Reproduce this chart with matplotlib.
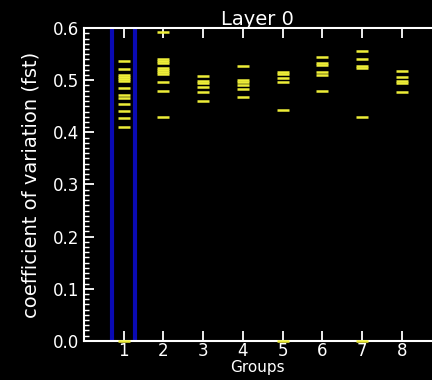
import matplotlib.pyplot as plt
from matplotlib.ticker import MultipleLocator

# values, one list per group
group_1 = [0.537, 0.522, 0.511, 0.507, 0.503, 0.499, 0.486, 0.471, 0.465,
           0.454, 0.441, 0.428, 0.411, 0.0]
group_2 = [0.593, 0.541, 0.537, 0.533, 0.524, 0.520, 0.516, 0.512, 0.497, 0.479, 0.430]
group_3 = [0.509, 0.498, 0.494, 0.487, 0.478, 0.460]
group_4 = [0.527, 0.501, 0.497, 0.491, 0.484, 0.467]
group_5 = [0.516, 0.512, 0.504, 0.497, 0.443, 0.0]
group_6 = [0.544, 0.534, 0.530, 0.515, 0.511, 0.480]
group_7 = [0.557, 0.540, 0.528, 0.524, 0.430, 0.0]
group_8 = [0.517, 0.507, 0.499, 0.495, 0.477]
groups = [group_1, group_2, group_3, group_4, group_5, group_6, group_7, group_8]
group_ticks = [1, 2, 3, 4, 5, 6, 7, 8]
highlight = [0.7, 1.3]  # blue bars around group 1

plt.rcParams['font.family'] = 'DejaVu Sans'
fig = plt.figure(figsize=(4.32, 3.8), dpi=100, facecolor='black')
ax = fig.add_axes([0.194, 0.103, 0.806, 0.823], facecolor='black')

for x in highlight:
    ax.axvline(x, color='#0a0ab4', lw=3)

for g, vals in zip(group_ticks, groups):
    ax.plot([g] * len(vals), vals, ls='none', marker='_', ms=9, mew=1.8,
            color='#eeee38', clip_on=False, zorder=3)

ax.set_xlim(0, 8.76)
ax.set_ylim(0, 0.6)
ax.set_xticks(group_ticks)
ax.yaxis.set_major_locator(MultipleLocator(0.1))
ax.yaxis.set_minor_locator(MultipleLocator(0.01))
ax.yaxis.set_major_formatter(plt.FormatStrFormatter('%.1f'))

for s in ['left', 'bottom', 'top']:
    ax.spines[s].set_color('white')
    ax.spines[s].set_linewidth(1.5)
ax.spines['right'].set_visible(False)

ax.tick_params(axis='x', direction='in', top=True, length=7, width=1.3,
               colors='white', labelsize=12, pad=1)
ax.tick_params(axis='y', which='major', direction='in', length=7, width=1.3,
               colors='white', labelsize=12)
ax.tick_params(axis='y', which='minor', direction='in', length=3.5, width=1,
               colors='white')

ax.set_xlabel('Groups', color='white', fontsize=11, labelpad=0)
ax.set_ylabel('coefficient of variation (fst)', color='white', fontsize=14, labelpad=9)
ax.set_title('Layer 0', color='white', fontsize=14, pad=2)

fig.savefig('out.png', dpi=100, facecolor='black')
